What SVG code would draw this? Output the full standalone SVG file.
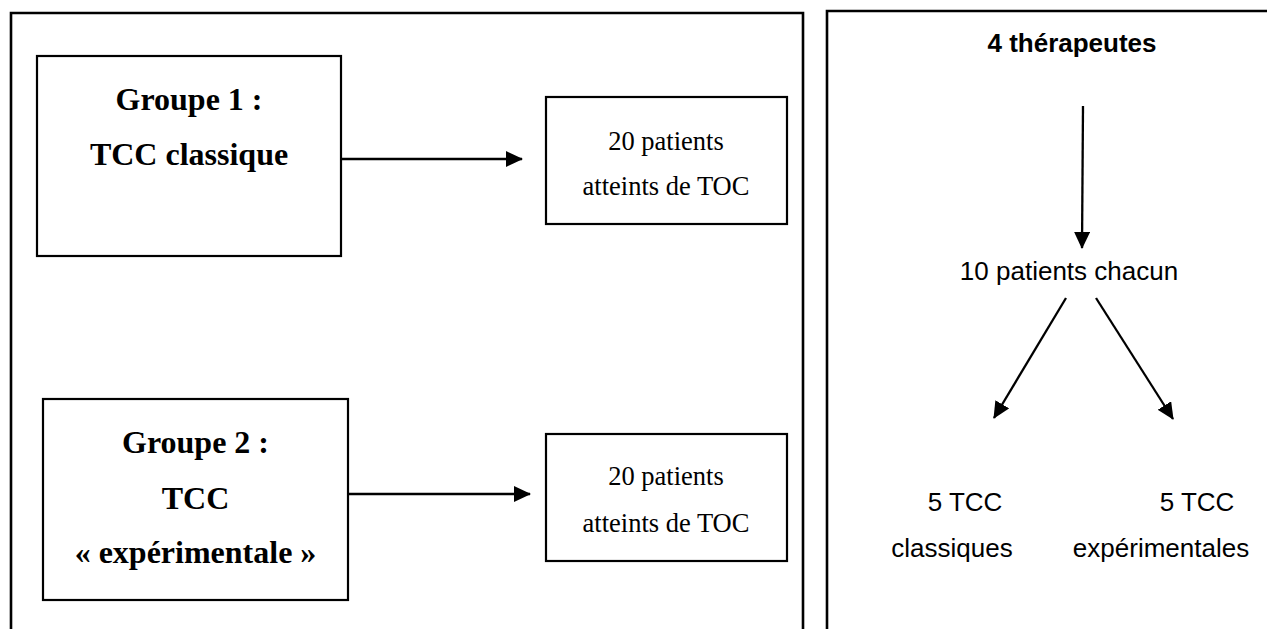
<svg xmlns="http://www.w3.org/2000/svg" width="1267" height="629" viewBox="0 0 1267 629">
<style>
.frame{fill:none;stroke:#000;stroke-width:2.6}
.box{fill:#fff;stroke:#000;stroke-width:2.2}
.conn{stroke:#000;stroke-width:2.3;fill:none}
.sb{font-family:"Liberation Serif",serif;font-weight:bold;font-size:32px;text-anchor:middle;fill:#000}
.sr{font-family:"Liberation Serif",serif;font-size:26.5px;text-anchor:middle;fill:#000}
.ar{font-family:"Liberation Sans",Arial,sans-serif;font-size:26px;text-anchor:middle;fill:#000}
.ab{font-family:"Liberation Sans",Arial,sans-serif;font-weight:bold;font-size:26px;text-anchor:middle;fill:#000}
</style>
<defs>
<marker id="ah" markerWidth="18" markerHeight="18" refX="16" refY="8" orient="auto" markerUnits="userSpaceOnUse">
<path d="M0,0 L17,8 L0,16 Z" fill="#000"/>
</marker>
</defs>
<rect width="1267" height="629" fill="#fff"/>
<g id="left-panel">
<path class="frame" d="M11,640 V13 H803 V640"/>
</g>
<g id="right-panel">
<path class="frame" d="M827,640 V11 H1270"/>
</g>
<g id="groupe1">
<rect class="box" x="37" y="56" width="304" height="200"/>
<text class="sb" x="189" y="110">Groupe 1 :</text>
<text class="sb" x="189" y="165">TCC classique</text>
</g>
<g id="patients1">
<rect class="box" x="546" y="97" width="241" height="127"/>
<text class="sr" x="666" y="150">20 patients</text>
<text class="sr" x="666" y="195">atteints de TOC</text>
</g>
<g id="groupe2">
<rect class="box" x="43" y="399" width="305" height="201"/>
<text class="sb" x="195.5" y="453">Groupe 2 :</text>
<text class="sb" x="195.5" y="509">TCC</text>
<text class="sb" x="195.5" y="563">« expérimentale »</text>
</g>
<g id="patients2">
<rect class="box" x="546" y="434" width="241" height="127"/>
<text class="sr" x="666" y="485">20 patients</text>
<text class="sr" x="666" y="532">atteints de TOC</text>
</g>
<g id="therapeutes">
<text class="ab" x="1072" y="52">4 thérapeutes</text>
</g>
<g id="chacun">
<text class="ar" x="1069" y="280">10 patients chacun</text>
</g>
<g id="classiques">
<text class="ar" x="965" y="511">5 TCC</text>
<text class="ar" x="952" y="557">classiques</text>
</g>
<g id="experimentales">
<text class="ar" x="1197" y="511">5 TCC</text>
<text class="ar" x="1161" y="557">expérimentales</text>
</g>
<g id="connectors">
<line class="conn" x1="341" y1="159" x2="522" y2="159" marker-end="url(#ah)"/>
<line class="conn" x1="348" y1="494" x2="530" y2="494" marker-end="url(#ah)"/>
<line class="conn" x1="1083" y1="106" x2="1082" y2="248" marker-end="url(#ah)"/>
<line class="conn" x1="1066" y1="298" x2="994" y2="418" marker-end="url(#ah)"/>
<line class="conn" x1="1096" y1="298" x2="1173" y2="419" marker-end="url(#ah)"/>
</g>
</svg>
